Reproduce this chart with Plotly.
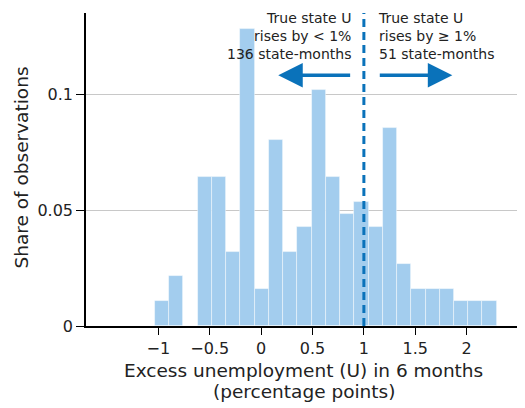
import plotly.graph_objects as go

# Histogram bins (left edges start at -1.032, width 0.1385)
bin_start = -1.032
bin_width = 0.1385
shares = [0.0107, 0.0214, 0.0, 0.0642, 0.0642, 0.0321, 0.1283, 0.0160,
          0.0802, 0.0321, 0.0428, 0.1016, 0.0642, 0.0481, 0.0535, 0.0428,
          0.0856, 0.0267, 0.0160, 0.0160, 0.0160, 0.0107, 0.0107, 0.0107]
centers = [bin_start + bin_width * (i + 0.5) for i in range(len(shares))]

x_tickvals = [-1, -0.5, 0, 0.5, 1, 1.5, 2]
x_ticktext = ["\u22121", "\u22120.5", "0", "0.5", "1", "1.5", "2"]
y_tickvals = [0, 0.05, 0.1]
y_ticktext = ["0", "0.05", "0.1"]

threshold = 1.0
left_label = "True state U<br>rises by < 1%<br>136 state-months"
right_label = "True state U<br>rises by \u2265 1%<br>51 state-months"
x_title_1 = "Excess unemployment (U) in 6 months"
x_title_2 = "(percentage points)"
y_title = "Share of observations"

BLUE = "#0a72ba"
BAR = "#a3cdee"
TXT = "#222222"
FONT = "DejaVu Sans, sans-serif"

# The page body adds an 8px offset; the figure is sized to fill the rest of the window.
OFF = 8
W, H = 525 - OFF, 408 - OFF
# plot-area edges in window pixels
LEFT, RIGHT, TOP, BOTTOM = 86, 522, 13, 326
ML, MR, MT, MB = LEFT - OFF, 525 - RIGHT, TOP - OFF, 408 - BOTTOM
PW, PH = RIGHT - LEFT, BOTTOM - TOP


def px(xp):
    return (xp - LEFT) / PW


def py(yp):
    return (BOTTOM - yp) / PH


fig = go.Figure()
fig.add_trace(go.Bar(
    x=centers, y=shares, width=bin_width,
    marker=dict(color=BAR, line=dict(color="rgba(255,255,255,0.55)", width=0.8)),
    hoverinfo="skip",
))

fig.add_shape(type="line", x0=threshold, x1=threshold, y0=0, y1=0.1355,
              xref="x", yref="y", line=dict(color=BLUE, width=3, dash="8px,5px"))

# arrows
fig.add_annotation(x=0.167, y=0.1082, ax=0.881, ay=0.1082, xref="x", yref="y",
                   axref="x", ayref="y", text="", showarrow=True, arrowhead=2,
                   arrowsize=1.4, arrowwidth=3.5, arrowcolor=BLUE)
fig.add_annotation(x=1.860, y=0.1082, ax=1.140, ay=0.1082, xref="x", yref="y",
                   axref="x", ayref="y", text="", showarrow=True, arrowhead=2,
                   arrowsize=1.4, arrowwidth=3.5, arrowcolor=BLUE)

fig.add_annotation(x=px(352), y=py(8.5), xref="paper", yref="paper", text=left_label,
                   showarrow=False, xanchor="right", yanchor="top", align="right",
                   borderpad=0, font=dict(size=14, color=TXT, family=FONT))
fig.add_annotation(x=px(377), y=py(8.5), xref="paper", yref="paper", text=right_label,
                   showarrow=False, xanchor="left", yanchor="top", align="left",
                   borderpad=0, font=dict(size=14, color=TXT, family=FONT))

# axis titles
fig.add_annotation(x=px(303.5), y=py(370), xref="paper", yref="paper", text=x_title_1,
                   showarrow=False, xanchor="center", yanchor="middle",
                   font=dict(size=18.5, color=TXT, family=FONT))
fig.add_annotation(x=px(303.5), y=py(391), xref="paper", yref="paper", text=x_title_2,
                   showarrow=False, xanchor="center", yanchor="middle",
                   font=dict(size=18.5, color=TXT, family=FONT))
fig.add_annotation(x=px(21), y=py(167.5), xref="paper", yref="paper", text=y_title,
                   showarrow=False, xanchor="center", yanchor="middle", textangle=-90,
                   font=dict(size=18.5, color=TXT, family=FONT))

fig.update_layout(
    width=W, height=H,
    margin=dict(l=ML, r=MR, t=MT, b=MB),
    paper_bgcolor="white", plot_bgcolor="white",
    showlegend=False, bargap=0,
    font=dict(family=FONT, color=TXT),
)
fig.update_xaxes(
    range=[-1.703, 2.538], tickvals=x_tickvals, ticktext=x_ticktext,
    showline=True, linecolor="black", linewidth=1.5,
    ticks="outside", ticklen=7, tickcolor="black", tickwidth=1,
    showgrid=False, zeroline=False, tickfont=dict(size=16), automargin=False,
)
fig.update_yaxes(
    range=[0, 0.135], tickvals=y_tickvals, ticktext=y_ticktext,
    showline=True, linecolor="black", linewidth=1.5,
    ticks="outside", ticklen=8, tickcolor="black", tickwidth=1,
    showgrid=True, gridcolor="#c8c8c8", gridwidth=1, zeroline=False,
    tickfont=dict(size=16), automargin=False,
)

fig.write_html("out.html")
